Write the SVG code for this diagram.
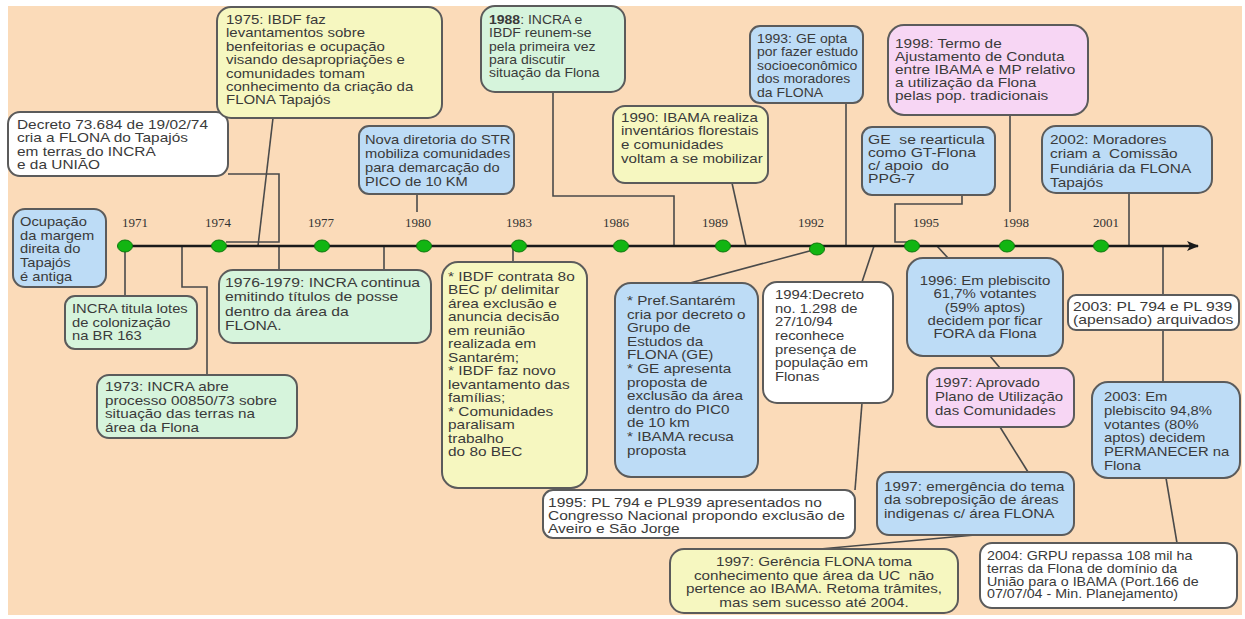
<svg xmlns="http://www.w3.org/2000/svg" width="1245" height="619" viewBox="0 0 1245 619">
<defs>
<style>
.bx{stroke:#5b5b5b;stroke-width:2}
.blue{fill:#BDDCF6}.yel{fill:#F6F7C0}.mint{fill:#D6F4DC}.pink{fill:#F7D6F4}.wht{fill:#FFFFFF}
.t{font-family:"Liberation Sans",Arial,sans-serif;font-size:13px;fill:#3a3a3a;white-space:pre}
.c{text-anchor:middle}
.yr{font-family:"Liberation Serif","Times New Roman",serif;font-size:13px;fill:#333;text-anchor:middle}
.cn{fill:none;stroke:#4a4a4a;stroke-width:1.6}
.dot{fill:#12B512;stroke:#0A780A;stroke-width:1}
</style>
<marker id="arr" viewBox="0 0 12 10" refX="11" refY="5" markerWidth="12" markerHeight="10" markerUnits="userSpaceOnUse" orient="auto">
<path d="M0,0 L12,5 L0,10 L3,5 Z" fill="#1a1a1a"/>
</marker>
</defs>
<rect x="0" y="0" width="1245" height="619" fill="#FFFFFF"/>
<rect x="8" y="6" width="1234" height="609" fill="#FBDBB9"/>

<g id="connectors">
<path class="cn" d="M125,246 V296"/>
<path class="cn" d="M182,246 V287 H207 V375"/>
<path class="cn" d="M228,174 H279 V242 H226"/>
<path class="cn" d="M273,118 L258,246"/>
<path class="cn" d="M279,246 V270"/>
<path class="cn" d="M384,246 V270"/>
<path class="cn" d="M417,194 V212"/>
<path class="cn" d="M513,246 V262"/>
<path class="cn" d="M553,92 V196 H674 V246"/>
<path class="cn" d="M732,183 L746,246"/>
<path class="cn" d="M690,283 L817,249"/>
<path class="cn" d="M846,103 V246"/>
<path class="cn" d="M874,246 L862,282"/>
<path class="cn" d="M862,403 L855,490"/>
<path class="cn" d="M962,195 V204 H895 V242 H908"/>
<path class="cn" d="M937,246 L948,258"/>
<path class="cn" d="M1010,115 V212"/>
<path class="cn" d="M990,356 L1000,368"/>
<path class="cn" d="M1000,427 L1028,472"/>
<path class="cn" d="M975,535 L820,549"/>
<path class="cn" d="M1129,193 V246"/>
<path class="cn" d="M1163,246 V295"/>
<path class="cn" d="M1163,330 V382"/>
<path class="cn" d="M1166,478 L1177,543"/>
</g>

<g id="timeline">
<line x1="120" y1="246" x2="1198" y2="246" stroke="#1a1a1a" stroke-width="2.5" marker-end="url(#arr)"/>
<ellipse class="dot" cx="125" cy="246" rx="7.5" ry="6"/>
<ellipse class="dot" cx="219" cy="246" rx="7.5" ry="6"/>
<ellipse class="dot" cx="322" cy="246" rx="7.5" ry="6"/>
<ellipse class="dot" cx="424" cy="246" rx="7.5" ry="6"/>
<ellipse class="dot" cx="519" cy="246" rx="7.5" ry="6"/>
<ellipse class="dot" cx="621" cy="246" rx="7.5" ry="6"/>
<ellipse class="dot" cx="723" cy="246" rx="7.5" ry="6"/>
<ellipse class="dot" cx="817" cy="249" rx="7.5" ry="6"/>
<ellipse class="dot" cx="912" cy="246" rx="7.5" ry="6"/>
<ellipse class="dot" cx="1007" cy="246" rx="7.5" ry="6"/>
<ellipse class="dot" cx="1101" cy="246" rx="7.5" ry="6"/>
<text class="yr" x="135" y="227">1971</text>
<text class="yr" x="218" y="227">1974</text>
<text class="yr" x="321" y="227">1977</text>
<text class="yr" x="418" y="227">1980</text>
<text class="yr" x="519" y="227">1983</text>
<text class="yr" x="616" y="227">1986</text>
<text class="yr" x="715" y="227">1989</text>
<text class="yr" x="811" y="227">1992</text>
<text class="yr" x="926" y="227">1995</text>
<text class="yr" x="1016" y="227">1998</text>
<text class="yr" x="1106" y="227">2001</text>
</g>

<g id="n-ocupacao">
<rect class="bx blue" x="13" y="209" width="93" height="78" rx="12"/>
<text class="t" transform="translate(20,226) scale(1.131,1)"><tspan x="0" y="0">Ocupação</tspan><tspan x="0" y="13.75">da margem</tspan><tspan x="0" y="27.5">direita do</tspan><tspan x="0" y="41.25">Tapajós</tspan><tspan x="0" y="55">é antiga</tspan></text>
</g>

<g id="n-decreto">
<rect class="bx wht" x="8" y="112" width="220" height="64" rx="12"/>
<text class="t" transform="translate(17,129) scale(1.185,1)"><tspan x="0" y="0">Decreto 73.684 de 19/02/74</tspan><tspan x="0" y="13.5">cria a FLONA do Tapajós</tspan><tspan x="0" y="27">em terras do INCRA</tspan><tspan x="0" y="40.5">e da UNIÃO</tspan></text>
</g>

<g id="n-1975">
<rect class="bx yel" x="217" y="7" width="225" height="111" rx="14"/>
<text class="t" transform="translate(226,24) scale(1.152,1)"><tspan x="0" y="0">1975: IBDF faz</tspan><tspan x="0" y="13.4">levantamentos sobre</tspan><tspan x="0" y="26.8">benfeitorias e ocupação</tspan><tspan x="0" y="40.2">visando desapropriações e</tspan><tspan x="0" y="53.6">comunidades tomam</tspan><tspan x="0" y="67">conhecimento da criação da</tspan><tspan x="0" y="80.4">FLONA Tapajós</tspan></text>
</g>

<g id="n-str">
<rect class="bx blue" x="359" y="126" width="155" height="68" rx="10"/>
<text class="t" transform="translate(365,144) scale(1.131,1)"><tspan x="0" y="0">Nova diretoria do STR</tspan><tspan x="0" y="14">mobiliza comunidades</tspan><tspan x="0" y="28">para demarcação do</tspan><tspan x="0" y="42">PICO de 10 KM</tspan></text>
</g>

<g id="n-1988">
<rect class="bx mint" x="481" y="6" width="144" height="86" rx="14"/>
<text class="t" transform="translate(489,24) scale(1.077,1)"><tspan x="0" y="0"><tspan font-weight="bold">1988</tspan>: INCRA e</tspan><tspan x="0" y="13.3">IBDF reunem-se</tspan><tspan x="0" y="26.6">pela primeira vez</tspan><tspan x="0" y="39.9">para discutir</tspan><tspan x="0" y="53.2">situação da Flona</tspan></text>
</g>

<g id="n-1990">
<rect class="bx yel" x="613" y="106" width="155" height="77" rx="12"/>
<text class="t" transform="translate(621,121.5) scale(1.163,1)"><tspan x="0" y="0">1990: IBAMA realiza</tspan><tspan x="0" y="14">inventários florestais</tspan><tspan x="0" y="28">e comunidades</tspan><tspan x="0" y="42">voltam a se mobilizar</tspan></text>
</g>

<g id="n-1993">
<rect class="bx blue" x="750" y="26" width="113" height="77" rx="10"/>
<text class="t" transform="translate(757,43) scale(1.077,1)"><tspan x="0" y="0">1993: GE opta</tspan><tspan x="0" y="13.5">por fazer estudo</tspan><tspan x="0" y="27">socioeconômico</tspan><tspan x="0" y="40.5">dos moradores</tspan><tspan x="0" y="54">da FLONA</tspan></text>
</g>

<g id="n-1998">
<rect class="bx pink" x="888" y="25" width="200" height="90" rx="16"/>
<text class="t" transform="translate(895,47.5) scale(1.185,1)"><tspan x="0" y="0">1998: Termo de</tspan><tspan x="0" y="13.1">Ajustamento de Conduta</tspan><tspan x="0" y="26.2">entre IBAMA e MP relativo</tspan><tspan x="0" y="39.3">a utilização da Flona</tspan><tspan x="0" y="52.4">pelas pop. tradicionais</tspan></text>
</g>

<g id="n-ge">
<rect class="bx blue" x="862" y="127" width="133" height="68" rx="10"/>
<text class="t" transform="translate(868,144) scale(1.206,1)"><tspan x="0" y="0">GE  se rearticula</tspan><tspan x="0" y="13">como GT-Flona</tspan><tspan x="0" y="26">c/ apoio  do</tspan><tspan x="0" y="39">PPG-7</tspan></text>
</g>

<g id="n-2002">
<rect class="bx blue" x="1042" y="126" width="170" height="67" rx="14"/>
<text class="t" transform="translate(1050,144) scale(1.185,1)"><tspan x="0" y="0">2002: Moradores</tspan><tspan x="0" y="14.5">criam a  Comissão</tspan><tspan x="0" y="29">Fundiária da FLONA</tspan><tspan x="0" y="43.5">Tapajós</tspan></text>
</g>

<g id="n-1976">
<rect class="bx mint" x="219" y="270" width="212" height="73" rx="14"/>
<text class="t" transform="translate(225,287) scale(1.206,1)"><tspan x="0" y="0">1976-1979: INCRA continua</tspan><tspan x="0" y="14.3">emitindo títulos de posse</tspan><tspan x="0" y="28.6">dentro da área da</tspan><tspan x="0" y="42.9">FLONA.</tspan></text>
</g>

<g id="n-incra">
<rect class="bx mint" x="65" y="296" width="132" height="53" rx="10"/>
<text class="t" transform="translate(72,313) scale(1.137,1)"><tspan x="0" y="0">INCRA titula lotes</tspan><tspan x="0" y="13.7">de colonização</tspan><tspan x="0" y="27.4">na BR 163</tspan></text>
</g>

<g id="n-1973">
<rect class="bx mint" x="97" y="375" width="200" height="63" rx="12"/>
<text class="t" transform="translate(105,391) scale(1.174,1)"><tspan x="0" y="0">1973: INCRA abre</tspan><tspan x="0" y="13.7">processo 00850/73 sobre</tspan><tspan x="0" y="27.4">situação das terras na</tspan><tspan x="0" y="41.1">área da Flona</tspan></text>
</g>

<g id="n-ibdf">
<rect class="bx yel" x="442" y="262" width="145" height="226" rx="16"/>
<text class="t" transform="translate(448,281) scale(1.185,1)"><tspan x="0" y="0">* IBDF contrata 8o</tspan><tspan x="0" y="13.5">BEC p/ delimitar</tspan><tspan x="0" y="27">área exclusão e</tspan><tspan x="0" y="40.5">anuncia decisão</tspan><tspan x="0" y="54">em reunião</tspan><tspan x="0" y="67.5">realizada em</tspan><tspan x="0" y="81">Santarém;</tspan><tspan x="0" y="94.5">* IBDF faz novo</tspan><tspan x="0" y="108">levantamento das</tspan><tspan x="0" y="121.5">famílias;</tspan><tspan x="0" y="135">* Comunidades</tspan><tspan x="0" y="148.5">paralisam</tspan><tspan x="0" y="162">trabalho</tspan><tspan x="0" y="175.5">do 8o BEC</tspan></text>
</g>

<g id="n-pref">
<rect class="bx blue" x="615" y="283" width="143" height="194" rx="16"/>
<text class="t" transform="translate(627,305) scale(1.174,1)"><tspan x="0" y="0">* Pref.Santarém</tspan><tspan x="0" y="13.6">cria por decreto o</tspan><tspan x="0" y="27.2">Grupo de</tspan><tspan x="0" y="40.8">Estudos da</tspan><tspan x="0" y="54.4">FLONA (GE)</tspan><tspan x="0" y="68">* GE apresenta</tspan><tspan x="0" y="81.6">proposta de</tspan><tspan x="0" y="95.2">exclusão da área</tspan><tspan x="0" y="108.8">dentro do PIC0</tspan><tspan x="0" y="122.4">de 10 km</tspan><tspan x="0" y="136">* IBAMA recusa</tspan><tspan x="0" y="149.6">proposta</tspan></text>
</g>

<g id="n-1994">
<rect class="bx wht" x="763" y="282" width="130" height="121" rx="14"/>
<text class="t" transform="translate(775,299) scale(1.142,1)"><tspan x="0" y="0">1994:Decreto</tspan><tspan x="0" y="13.7">no. 1.298 de</tspan><tspan x="0" y="27.4">27/10/94</tspan><tspan x="0" y="41.1">reconhece</tspan><tspan x="0" y="54.8">presença de</tspan><tspan x="0" y="68.5">população em</tspan><tspan x="0" y="82.2">Flonas</tspan></text>
</g>

<g id="n-1996">
<rect class="bx blue" x="907" y="258" width="156" height="98" rx="16"/>
<text class="t c" transform="translate(985,285) scale(1.152,1)"><tspan x="0" y="0">1996: Em plebiscito</tspan><tspan x="0" y="13.3">61,7% votantes</tspan><tspan x="0" y="26.6">(59% aptos)</tspan><tspan x="0" y="39.9">decidem por ficar</tspan><tspan x="0" y="53.2">FORA da Flona</tspan></text>
</g>

<g id="n-1997a">
<rect class="bx pink" x="927" y="368" width="147" height="59" rx="12"/>
<text class="t" transform="translate(935,387) scale(1.152,1)"><tspan x="0" y="0">1997: Aprovado</tspan><tspan x="0" y="14">Plano de Utilização</tspan><tspan x="0" y="28">das Comunidades</tspan></text>
</g>

<g id="n-1997e">
<rect class="bx blue" x="877" y="472" width="197" height="63" rx="12"/>
<text class="t" transform="translate(884,491) scale(1.168,1)"><tspan x="0" y="0">1997: emergência do tema</tspan><tspan x="0" y="13.5">da sobreposição de áreas</tspan><tspan x="0" y="27">indigenas c/ área FLONA</tspan></text>
</g>

<g id="n-1995">
<rect class="bx wht" x="543" y="490" width="312" height="48" rx="10"/>
<text class="t" transform="translate(548,507) scale(1.195,1)"><tspan x="0" y="0">1995: PL 794 e PL939 apresentados no</tspan><tspan x="0" y="13">Congresso Nacional propondo exclusão de</tspan><tspan x="0" y="26">Aveiro e São Jorge</tspan></text>
</g>

<g id="n-gerencia">
<rect class="bx yel" x="670" y="549" width="288" height="64" rx="14"/>
<text class="t c" transform="translate(814,566) scale(1.171,1)"><tspan x="0" y="0">1997: Gerência FLONA toma</tspan><tspan x="0" y="13.7">conhecimento que área da UC  não</tspan><tspan x="0" y="27.4">pertence ao IBAMA. Retoma trâmites,</tspan><tspan x="0" y="41.1">mas sem sucesso até 2004.</tspan></text>
</g>

<g id="n-2003pl">
<rect class="bx wht" x="1068" y="295" width="171" height="35" rx="8"/>
<text class="t" transform="translate(1073,311) scale(1.206,1)"><tspan x="0" y="0">2003: PL 794 e PL 939</tspan><tspan x="0" y="13.5">(apensado) arquivados</tspan></text>
</g>

<g id="n-2003">
<rect class="bx blue" x="1092" y="382" width="148" height="96" rx="16"/>
<text class="t" transform="translate(1104,401) scale(1.142,1)"><tspan x="0" y="0">2003: Em</tspan><tspan x="0" y="13.8">plebiscito 94,8%</tspan><tspan x="0" y="27.6">votantes (80%</tspan><tspan x="0" y="41.4">aptos) decidem</tspan><tspan x="0" y="55.2">PERMANECER na</tspan><tspan x="0" y="69">Flona</tspan></text>
</g>

<g id="n-2004">
<rect class="bx wht" x="980" y="543" width="257" height="65" rx="12"/>
<text class="t" transform="translate(987,560) scale(1.098,1)"><tspan x="0" y="0">2004: GRPU repassa 108 mil ha</tspan><tspan x="0" y="12.8">terras da Flona de domínio da</tspan><tspan x="0" y="25.6">União para o IBAMA (Port.166 de</tspan><tspan x="0" y="38.4">07/07/04 - Min. Planejamento)</tspan></text>
</g>
</svg>
